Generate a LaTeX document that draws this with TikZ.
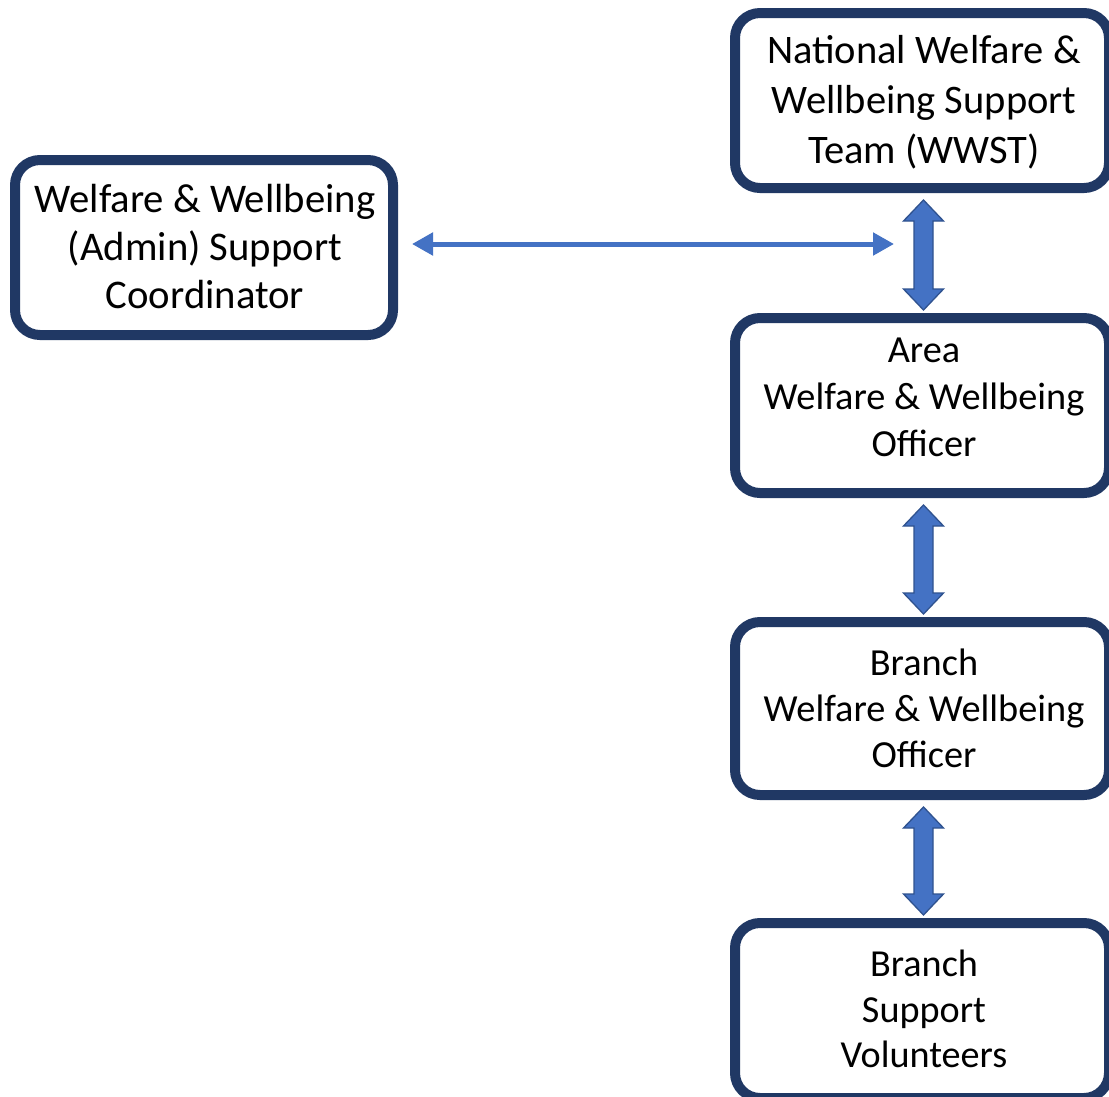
\documentclass[tikz,border=0pt]{standalone}
\usepackage{fontspec}
\setmainfont{Carlito}
\usetikzlibrary{arrows.meta,calc}
\definecolor{navy}{HTML}{203864}
\definecolor{ablue}{HTML}{4472C4}
\definecolor{aedge}{HTML}{2F528F}
\newcommand\vdarrow[2]{\draw[barrow] let \p1=($(#1.south)+(1.5,12)$), \p2=($(#2.north)+(1.5,-8)$) in
  (\x1,\y1) -- (\x1+20pt,\y1-21pt) -- (\x1+9.5pt,\y1-21pt) -- (\x1+9.5pt,\y2+21pt) -- (\x1+20pt,\y2+21pt)
  -- (\x1,\y2) -- (\x1-20pt,\y2+21pt) -- (\x1-9.5pt,\y2+21pt) -- (\x1-9.5pt,\y1-21pt) -- (\x1-20pt,\y1-21pt) -- cycle;}
\begin{document}
\begin{tikzpicture}[x=1pt,y=-1pt,
  box/.style={draw=navy, line width=10pt, rounded corners=25pt, fill=white, outer sep=0pt, inner sep=0pt},
  txt/.style 2 args={align=center, inner sep=0pt, font=\fontsize{#1}{#2}\selectfont},
  barrow/.style={fill=ablue, draw=aedge, line width=1.3pt, line join=miter},
  harrow/.style={draw=ablue, line width=5pt, {Triangle[length=21pt,width=22pt]}-{Triangle[length=21pt,width=22pt]}}]
\useasboundingbox (0,0) rectangle (1109,1096);
\clip (0,0) rectangle (1109,1096);
\fill[white] (0,0) rectangle (1109,1096);
% boxes
\node[box, minimum width=374pt, minimum height=175pt] (nat) at (922,100.5) {};
\node[box, minimum width=374pt, minimum height=175pt] (area) at (922,405.5) {};
\node[box, minimum width=374pt, minimum height=173pt] (branch) at (922,708.5) {};
\node[box, minimum width=374pt, minimum height=175pt] (vol) at (922,1010.5) {};
\node[box, minimum width=378pt, minimum height=175pt] (left) at (204,247.5) {};
% texts
\node[txt={40.5pt}{50pt}] (natT) at (924,102) {National Welfare \&\\Wellbeing Support\\Team (WWST)};
\node[txt={38.3pt}{47pt}] (areaT) at (924,397) {Area\\Welfare \& Wellbeing\\Officer};
\node[txt={38.3pt}{46pt}] (branchT) at (924,708.5) {Branch\\Welfare \& Wellbeing\\Officer};
\node[txt={38.2pt}{45.5pt}] (volT) at (924,1009) {Branch\\Support\\Volunteers};
\node[txt={40.7pt}{48pt}] (leftT) at (205,246.5) {Welfare \& Wellbeing\\(Admin) Support\\Coordinator};
% connectors
\coordinate (hl) at ($(left.east)+(19,-3.5)$);
\coordinate (hr) at (894,244);
\draw[harrow] (hl) -- (hr);
\vdarrow{nat}{area}
\vdarrow{area}{branch}
\vdarrow{branch}{vol}
\end{tikzpicture}
\end{document}
